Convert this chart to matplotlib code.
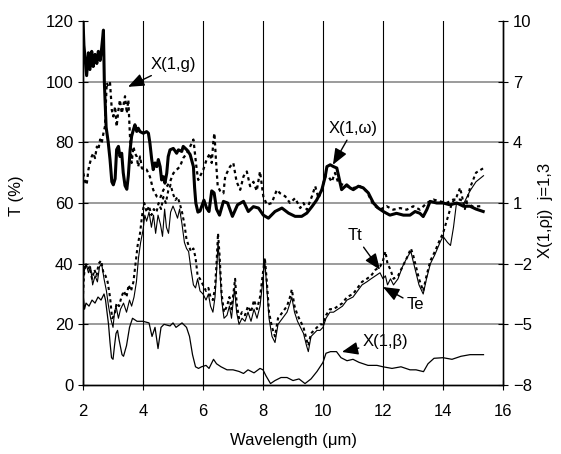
import matplotlib
matplotlib.use("Agg")
import matplotlib.pyplot as plt

plt.rcParams['font.family'] = ['Liberation Sans', 'DejaVu Sans']

# ---- X(1,omega) thick solid (right axis units)
wl_w = [2.00, 2.03, 2.12, 2.18, 2.23, 2.29, 2.34, 2.40, 2.46, 2.51, 2.57, 2.62, 2.68, 2.71, 2.77,
        2.84, 2.90, 2.96, 3.01, 3.07, 3.12, 3.18, 3.23, 3.29, 3.34, 3.40, 3.46, 3.51, 3.57, 3.62,
        3.68, 3.73, 3.79, 3.84, 3.90, 4.01, 4.12, 4.18, 4.23, 4.29, 4.34, 4.40, 4.46, 4.51, 4.57,
        4.62, 4.68, 4.73, 4.79, 4.84, 4.90, 5.01, 5.12, 5.18, 5.29, 5.34, 5.46, 5.57, 5.68, 5.72,
        5.76, 5.83, 5.90, 6.03, 6.12, 6.20, 6.29, 6.37, 6.45, 6.55, 6.68, 6.82, 6.98, 7.15, 7.35,
        7.51, 7.68, 7.85, 8.01, 8.18, 8.40, 8.63, 8.85, 9.07, 9.29, 9.46, 9.63, 9.79, 9.96, 10.07,
        10.13, 10.24, 10.35, 10.46, 10.51, 10.57, 10.62, 10.79, 10.90, 11.01, 11.18, 11.34, 11.51,
        11.68, 11.84, 12.01, 12.23, 12.45, 12.68, 12.90, 13.07, 13.23, 13.34, 13.46, 13.57, 13.79,
        14.01, 14.23, 14.46, 14.68, 14.90, 15.10, 15.34]
X_w = [10.0, 8.8, 7.3, 8.43, 7.6, 8.5, 7.75, 8.35, 7.9, 8.5, 8.05, 8.65, 9.55, 7.0, 4.75,
       4.0, 3.15, 2.05, 1.9, 2.2, 3.64, 3.8, 3.3, 3.46, 2.5, 1.86, 1.68, 2.35, 3.64, 4.3,
       4.63, 4.87, 4.54, 4.7, 4.53, 4.45, 4.53, 4.45, 3.96, 3.15, 2.65, 2.98, 2.8, 3.15, 2.8,
       2.14, 2.3, 1.98, 2.47, 3.3, 3.63, 3.7, 3.46, 3.63, 3.55, 3.8, 3.63, 3.4, 2.8, 1.75,
       1.0, 0.55, 0.6, 1.14, 0.75, 0.58, 1.6, 1.5, 0.7, 0.4, 1.08, 1.0, 0.34, 0.91, 1.08,
       0.58, 0.82, 0.75, 0.4, 0.25, 0.58, 0.75, 0.5, 0.34, 0.34, 0.5, 0.82, 1.15, 1.65, 2.28,
       2.8, 2.89, 2.8, 2.73, 2.4, 1.99, 1.66, 1.9, 1.75, 1.66, 1.83, 1.75, 1.5,
       1.0, 0.75, 0.58, 0.4, 0.49, 0.4, 0.4, 0.58, 0.49, 0.33, 0.67, 1.08, 1.0,
       1.0, 0.91, 1.0, 0.84, 0.84, 0.7, 0.58]

# ---- X(1,g) dotted (right axis units)
wl_g = [2.01, 2.07, 2.12, 2.18, 2.23, 2.29, 2.34, 2.40, 2.46, 2.51, 2.57, 2.62, 2.68, 2.73, 2.79,
        2.84, 2.90, 2.96, 3.01, 3.07, 3.12, 3.18, 3.23, 3.29, 3.34, 3.40, 3.46, 3.51, 3.57, 3.62,
        3.68, 3.73, 3.79, 3.84, 3.90, 3.96, 4.01, 4.12, 4.23, 4.34, 4.46, 4.57, 4.68, 4.79, 4.90,
        5.01, 5.12, 5.23, 5.34, 5.46, 5.57, 5.68, 5.73, 5.79, 5.84, 6.01, 6.12, 6.23, 6.29, 6.35,
        6.38, 6.43, 6.49, 6.57, 6.68, 6.74, 6.90, 7.01, 7.12, 7.24, 7.35, 7.46, 7.57, 7.68, 7.79,
        7.90, 8.01, 8.13, 8.29, 8.46, 8.57, 8.74, 8.90, 9.07, 9.24, 9.35, 9.46, 9.63, 9.74, 9.85,
        9.96, 10.07, 10.18, 10.29, 10.40, 10.51, 10.79, 11.01, 11.23, 11.46, 11.68, 11.90, 12.12,
        12.34, 12.57, 12.79, 13.01, 13.23, 13.46, 13.68, 13.90, 14.12, 14.34, 14.57, 14.79, 15.00,
        15.34]
X_g = [2.47, 2.05, 1.9, 2.65, 2.98, 3.3, 3.46, 3.22, 3.79, 3.63, 4.14, 3.96, 4.45, 4.78, 6.94,
       6.78, 6.94, 5.6, 5.28, 5.77, 4.78, 5.6, 6.1, 5.44, 5.77, 6.28, 5.44, 6.1, 4.14, 2.98,
       3.79, 3.46, 3.3, 2.8, 3.3, 2.73, 2.65, 2.65, 2.3, 1.65, 1.32, 1.24, 1.65, 1.81, 2.05,
       2.47, 2.64, 2.8, 3.22, 3.46, 3.79, 4.14, 3.46, 2.65, 2.14, 2.65, 3.15, 3.46, 2.98, 4.14,
       4.45, 3.15, 1.83, 1.6, 1.48, 2.32, 2.8, 2.98, 2.05, 1.65, 2.32, 2.56, 1.83, 2.05, 1.6,
       2.56, 1.33, 0.91, 1.0, 1.65, 1.48, 1.33, 1.0, 1.24, 0.75, 1.0, 0.67, 1.33, 1.83, 1.24,
       1.65, 2.32, 2.32, 2.05, 2.49, 1.99, 1.83, 1.74, 1.83, 1.57, 0.91, 0.67, 0.84,
       0.67, 0.75, 0.67, 0.84, 0.67, 1.0, 1.17, 1.08, 1.0, 1.17, 1.17, 1.0, 0.82,
       0.85]

# ---- X(1,beta) thin solid (right axis units)
wl_b = [2.0, 2.05, 2.1, 2.2, 2.3, 2.4, 2.5, 2.6, 2.7, 2.75, 2.8, 2.85, 2.9, 2.95, 3.0, 3.05,
        3.1, 3.15, 3.2, 3.3, 3.35, 3.45, 3.55, 3.65, 3.8, 4.0, 4.2, 4.3, 4.4, 4.5, 4.6, 4.7,
        4.9, 5.0, 5.1, 5.3, 5.45, 5.55, 5.65, 5.75, 5.85, 5.95, 6.1, 6.2, 6.35, 6.45, 6.6, 6.8,
        7.0, 7.2, 7.35, 7.5, 7.7, 7.9, 8.0, 8.1, 8.25, 8.4, 8.6, 8.8, 9.0, 9.2, 9.4, 9.6, 9.8,
        10.0, 10.1, 10.25, 10.45, 10.6, 10.8, 11.0, 11.2, 11.5, 11.8, 12.0, 12.3, 12.6, 12.9,
        13.1, 13.35, 13.5, 13.7, 14.0, 14.3, 14.6, 14.9, 15.1, 15.35]
X_b = [-3.5, -4.25, -3.95, -4.1, -3.8, -3.95, -3.65, -3.8, -3.5, -3.8, -4.4, -5.0, -5.9, -6.65,
       -6.73, -6.05, -5.45, -5.3, -5.75, -6.5, -6.58, -6.05, -5.15, -4.7, -4.85, -4.85, -4.93,
       -5.6, -5.15, -6.2, -5.15, -5.0, -5.08, -4.93, -5.15, -4.93, -5.15, -5.6, -6.5, -7.1,
       -7.18, -7.1, -7.03, -7.18, -6.73, -6.95, -7.1, -7.25, -7.25, -7.33, -7.43, -7.25, -7.4,
       -7.18, -7.25, -7.55, -7.93, -7.78, -7.63, -7.63, -7.78, -7.7, -7.93, -7.7, -7.33,
       -6.88, -6.43, -6.35, -6.35, -6.65, -6.8, -6.73, -6.88, -7.03, -7.03, -7.1, -7.18, -7.1,
       -7.25, -7.25, -7.34, -6.95, -6.68, -6.65, -6.73, -6.58, -6.5, -6.5, -6.5]

# ---- Tt dotted (left axis, %)
wl_tt = [2.00, 2.03, 2.08, 2.15, 2.22, 2.30, 2.38, 2.45, 2.52, 2.60, 2.68, 2.75, 2.82, 2.90, 2.97,
         3.05, 3.12, 3.20, 3.28, 3.36, 3.45, 3.52, 3.60, 3.68, 3.75, 3.82, 3.90, 3.97, 4.04, 4.12,
         4.20, 4.28, 4.36, 4.45, 4.52, 4.60, 4.68, 4.76, 4.84, 4.92, 5.00, 5.08, 5.15, 5.22, 5.30,
         5.38, 5.45, 5.52, 5.60, 5.68, 5.75, 5.82, 5.90, 6.00, 6.10, 6.18, 6.25, 6.33, 6.40, 6.45,
         6.50, 6.55, 6.62, 6.70, 6.80, 6.88, 6.95, 7.07, 7.12, 7.20, 7.30, 7.40, 7.50, 7.60, 7.70,
         7.80, 7.90, 8.00, 8.06, 8.12, 8.20, 8.30, 8.40, 8.50, 8.65, 8.80, 8.90, 8.96, 9.05, 9.15,
         9.25, 9.35, 9.45, 9.51, 9.60, 9.70, 9.80, 9.90, 10.00, 10.10, 10.23, 10.35, 10.50, 10.65,
         10.80, 11.00, 11.15, 11.30, 11.46, 11.60, 11.75, 11.90, 12.00, 12.08, 12.15, 12.25, 12.35,
         12.50, 12.65, 12.80, 12.93, 13.00, 13.10, 13.20, 13.34, 13.45, 13.58, 13.73, 13.90, 14.00,
         14.15, 14.30, 14.45, 14.57, 14.73, 14.90, 15.10, 15.35]
T_tt = [30, 36, 40, 38, 39, 35, 38, 36, 40, 41, 37, 36, 34, 29, 22,
        23, 27, 26, 29, 31, 29, 33, 31, 34, 40, 46, 50, 56, 60, 57,
        59, 56, 58, 57, 60, 58, 62, 60, 64, 66, 63, 61, 62, 60, 57,
        53, 48, 46, 44, 45, 42, 36, 35, 33, 31, 32, 29, 28, 32, 40,
        50, 43, 30, 24, 26, 29, 25, 35, 27, 22, 24, 23, 26, 24, 28,
        25, 29, 37, 42, 35, 24, 19, 16, 22, 24, 26, 29, 31.5, 26, 23,
        21, 19, 15, 13, 17, 18, 19, 20, 20, 23, 25, 25, 26, 27,
        29, 30, 32, 34, 35, 36, 38, 39, 41, 44, 40, 38, 35,
        36, 39, 42, 45, 43, 39, 35, 31, 36, 41, 44, 48, 50,
        55, 60, 62, 65, 58, 65, 70, 71.5]

# ---- Te thin solid (left axis, %)
wl_te = [2.00, 2.05, 2.10, 2.18, 2.25, 2.32, 2.40, 2.48, 2.55, 2.62, 2.70, 2.78, 2.85, 2.92, 3.00,
         3.05, 3.10, 3.18, 3.25, 3.35, 3.45, 3.55, 3.62, 3.70, 3.78, 3.85, 3.92, 4.00, 4.06, 4.12,
         4.20, 4.28, 4.35, 4.42, 4.50, 4.58, 4.65, 4.72, 4.78, 4.85, 4.92, 5.00, 5.08, 5.15, 5.22,
         5.30, 5.38, 5.45, 5.52, 5.60, 5.68, 5.75, 5.82, 5.90, 6.00, 6.10, 6.18, 6.25, 6.33, 6.40,
         6.45, 6.50, 6.55, 6.62, 6.70, 6.80, 6.88, 6.95, 7.05, 7.12, 7.20, 7.30, 7.40, 7.50, 7.60,
         7.70, 7.80, 7.90, 8.00, 8.06, 8.12, 8.20, 8.30, 8.40, 8.50, 8.65, 8.80, 8.90, 8.96, 9.05,
         9.15, 9.25, 9.35, 9.45, 9.51, 9.60, 9.70, 9.80, 9.90, 10.00, 10.10, 10.23, 10.35, 10.50,
         10.65, 10.80, 11.00, 11.15, 11.30, 11.46, 11.60, 11.75, 11.90, 12.00, 12.08, 12.15, 12.25,
         12.35, 12.50, 12.65, 12.80, 12.93, 13.00, 13.10, 13.20, 13.34, 13.45, 13.58, 13.73, 13.90,
         14.00, 14.15, 14.25, 14.35, 14.45, 14.55, 14.70, 14.90, 15.10, 15.35]
T_te = [34, 38, 40, 37, 39, 33, 36, 34, 39, 40, 35, 31, 26, 22, 19,
        24, 26, 22, 25, 27, 24, 28, 26, 29, 34, 42, 47, 51, 56, 54,
        57, 52, 56, 50, 56, 53, 49, 58, 52, 50, 57, 59, 57, 55, 58,
        53, 47, 45, 44, 38, 33, 32, 35, 31, 30, 28, 30, 26, 24, 29,
        37, 47, 40, 28, 22, 23, 26, 22, 32, 24, 20, 22, 21, 24, 21,
        25, 22, 26, 35, 41, 33, 22, 16, 14, 20, 22, 24, 27, 29, 24,
        21, 19, 17, 13, 11, 16, 17, 18, 18, 19, 22, 24, 24, 25,
        26, 28, 29, 31, 33, 34, 35, 36, 37, 35, 36, 33, 35,
        33, 35, 39, 42, 44, 41, 37, 33, 30, 35, 40, 43, 47,
        49, 47, 46, 52, 60, 60, 60, 64, 67, 69]

x_ticks = [2, 4, 6, 8, 10, 12, 14, 16]
T_ticks = [0, 20, 40, 60, 80, 100, 120]
X_ticks = [-8, -5, -2, 1, 4, 7, 10]

fig = plt.figure(figsize=(5.61, 4.54), dpi=100)
ax = fig.add_axes([0.148, 0.152, 0.7486, 0.8017])
ax2 = ax.twinx()

ax.set_xlim(2, 16)
ax.set_ylim(0, 120)
ax2.set_ylim(-8, 10)

# grid
for t in T_ticks[1:-1]:
    ax.axhline(t, color='#808080', lw=1.1, zorder=0)
for xv in x_ticks[1:-1]:
    ax.axvline(xv, color='black', lw=0.8, zorder=0)

ax.plot(wl_te, T_te, color='black', lw=0.8)
ax.plot(wl_tt, T_tt, color='black', lw=1.5, ls=(0, (1.5, 1.5)))
ax2.plot(wl_b, X_b, color='black', lw=0.9)
ax2.plot(wl_g, X_g, color='black', lw=1.6, ls=(0, (1.5, 1.5)))
ax2.plot(wl_w, X_w, color='black', lw=2.2)

fs = 12
ax.set_xticks(x_ticks)
ax.set_yticks(T_ticks)
ax2.set_yticks(X_ticks)
ax.tick_params(axis='both', direction='inout', length=7, width=0.8, labelsize=fs, colors='black')
ax2.tick_params(axis='y', direction='inout', length=7, width=0.8, labelsize=fs)
ax.tick_params(axis='x', pad=10)
for a in (ax, ax2):
    a.spines['top'].set_visible(False)
    for s in ('left', 'right', 'bottom'):
        a.spines[s].set_linewidth(1.0)

ax.set_xlabel('Wavelength (μm)', fontsize=fs, labelpad=10)
ax.set_ylabel('T (%)', fontsize=fs)
ax.yaxis.set_label_coords(-0.14, 0.52)
ax2.set_ylabel('X(1,ρj)  j=1,3', fontsize=fs)
ax2.yaxis.set_label_coords(1.083, 0.48)

arrow = dict(arrowstyle='-|>,head_length=0.7,head_width=0.28', color='black', lw=1.0,
             mutation_scale=14, shrinkA=1, shrinkB=0)
ax.annotate('X(1,g)', xy=(3.5, 98.3), xytext=(4.27, 105.6), fontsize=fs,
            va='center', ha='left', arrowprops=arrow)
ax.annotate('X(1,ω)', xy=(10.33, 72.6), xytext=(10.2, 84.5), fontsize=fs,
            va='center', ha='left', arrowprops=arrow)
ax.annotate('Tt', xy=(11.9, 38.0), xytext=(10.83, 49.2), fontsize=fs,
            va='center', ha='left', arrowprops=arrow)
ax.annotate('Te', xy=(12.0, 32.3), xytext=(12.8, 26.4), fontsize=fs,
            va='center', ha='left', arrowprops=arrow)
ax.annotate('X(1,β)', xy=(10.63, 10.9), xytext=(11.33, 14.2), fontsize=fs,
            va='center', ha='left', arrowprops=arrow)

fig.savefig('out.png', dpi=100)
